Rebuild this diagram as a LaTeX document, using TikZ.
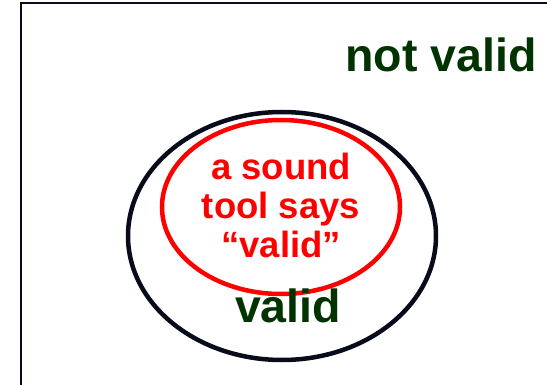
\documentclass[tikz,border=0pt]{standalone}
\usepackage{fontspec}
\setmainfont{Liberation Sans}
\definecolor{setgreen}{RGB}{0,51,0}
\definecolor{inkline}{RGB}{8,12,26}
\begin{document}
\begin{tikzpicture}[x=1pt,y=-1pt,
  setline/.style={draw=inkline,line width=4.5pt},
  toolline/.style={draw=red,line width=4.5pt},
  biglabel/.style={text=setgreen,font=\bfseries\fontsize{46.5}{50}\selectfont,anchor=base,inner sep=0pt},
  toollabel/.style={text=red,font=\bfseries\fontsize{36.5}{39}\selectfont,anchor=base,inner sep=0pt}]
\useasboundingbox (0,0) rectangle (547,385);
% universe of programs
\begin{scope}
  \clip (0,0) rectangle (547,385);
  \draw[draw=inkline,line width=2.5pt] (21,3) rectangle (580,420);
\end{scope}
% valid programs and what a sound tool accepts
\draw[setline] (282,236) ellipse [x radius=154, y radius=124];
\draw[toolline] (281,207) ellipse [x radius=119, y radius=87];
\node[biglabel] (notvalid) at (441,72) {not valid};
\node[biglabel] (valid) at (288,323) {valid};
\node[toollabel] (sound) at (281,180) {a sound};
\node[toollabel] (says) at (281,219) {tool says};
\node[toollabel] (quoted) at (281,258) {“valid”};
\end{tikzpicture}
\end{document}
